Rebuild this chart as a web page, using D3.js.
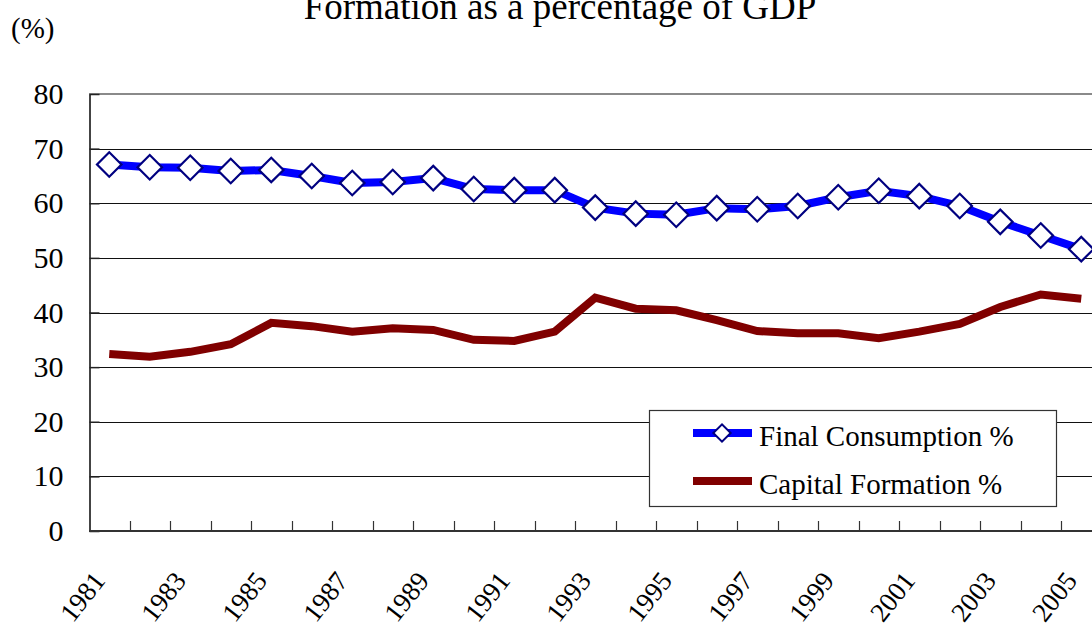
<!DOCTYPE html>
<html>
<head>
<meta charset="utf-8">
<script src="https://cdn.jsdelivr.net/npm/d3@7"></script>
<style>
    body { margin: 0; background: #fff; }
    svg { display: block; }
    text { font-family: "Liberation Serif", "Times New Roman", serif; fill: #000; }
</style>
</head>
<body>
<svg id="chart" width="1092" height="626"></svg>
<script>
// --- data ---
const years = [1981, 1982, 1983, 1984, 1985, 1986, 1987, 1988, 1989, 1990, 1991, 1992, 1993,
               1994, 1995, 1996, 1997, 1998, 1999, 2000, 2001, 2002, 2003, 2004, 2005];
const finalConsumption = [67.1, 66.6, 66.5, 65.9, 66.1, 65.0, 63.7, 63.9, 64.6, 62.6, 62.4, 62.4, 59.2,
                          58.1, 57.9, 59.1, 58.9, 59.5, 61.1, 62.3, 61.3, 59.5, 56.6, 54.1, 51.6];
const capitalFormation = [32.4, 31.9, 32.8, 34.2, 38.1, 37.5, 36.5, 37.1, 36.8, 35.0, 34.8, 36.5, 42.7,
                          40.7, 40.4, 38.6, 36.6, 36.2, 36.2, 35.3, 36.5, 37.9, 41.0, 43.3, 42.5];
const yTicks = [0, 10, 20, 30, 40, 50, 60, 70, 80];
const labelYears = [1981, 1983, 1985, 1987, 1989, 1991, 1993, 1995, 1997, 1999, 2001, 2003, 2005];
const seriesNames = ['Final Consumption %', 'Capital Formation %'];

const svg = d3.select('#chart');
const W = 1092;

// plot area runs a little past the right edge, like the original
const x = d3.scaleBand().domain(years).range([89, 1101.5]).padding(0);
const y = d3.scaleLinear().domain([0, 80]).range([531, 94]);
const cx = d => x(d) + x.bandwidth() / 2;

// title (cut off at the top in the original too) and unit label
svg.append('text')
    .attr('x', 560).attr('y', 19)
    .attr('text-anchor', 'middle')
    .style('font-size', '37px')
    .text('Formation as a percentage of GDP');

svg.append('text')
    .attr('x', 11).attr('y', 38)
    .style('font-size', '29px')
    .text('(%)');

// gridlines
svg.append('g')
    .selectAll('line')
    .data(yTicks.filter(t => t > 0 && t < 80))
    .join('line')
    .attr('x1', 89).attr('x2', W)
    .attr('y1', d => Math.round(y(d)) + 0.5).attr('y2', d => Math.round(y(d)) + 0.5)
    .attr('stroke', '#111').attr('stroke-width', 1.2);

// top border of plot area
svg.append('line')
    .attr('x1', 89).attr('x2', W)
    .attr('y1', y(80)).attr('y2', y(80))
    .attr('stroke', '#8a8a8a').attr('stroke-width', 2);

// y axis
const yAxis = svg.append('g')
    .attr('transform', 'translate(89.5,0)')
    .call(d3.axisLeft(y).tickValues(yTicks).tickSizeInner(-10).tickSizeOuter(0).tickPadding(26));
yAxis.select('.domain').attr('stroke', '#444').attr('stroke-width', 2);
yAxis.selectAll('.tick line').attr('stroke', '#222').attr('stroke-width', 1.5);
yAxis.selectAll('.tick text')
    .style('font-size', '30px')
    .style('font-family', '"Liberation Serif", "Times New Roman", serif')
    .attr('fill', '#000');

// x axis: baseline, ticks between categories, rotated labels
svg.append('line')
    .attr('x1', 89).attr('x2', W)
    .attr('y1', y(0)).attr('y2', y(0))
    .attr('stroke', '#333').attr('stroke-width', 2);

svg.append('g')
    .selectAll('line')
    .data(years.slice(1))
    .join('line')
    .attr('x1', d => Math.round(x(d)) + 0.5).attr('x2', d => Math.round(x(d)) + 0.5)
    .attr('y1', y(0)).attr('y2', y(0) - 10)
    .attr('stroke', '#333').attr('stroke-width', 1.2);

svg.append('g')
    .selectAll('text')
    .data(labelYears)
    .join('text')
    .attr('transform', d => `translate(${cx(d) - 3},${581}) rotate(-52)`)
    .attr('text-anchor', 'end')
    .style('font-size', '27px')
    .text(d => d);

// lines
const line = d3.line().x((d, i) => cx(years[i])).y(d => y(d));

svg.append('path')
    .datum(capitalFormation)
    .attr('fill', 'none')
    .attr('stroke', '#800000')
    .attr('stroke-width', 8)
    .attr('d', line);

svg.append('path')
    .datum(finalConsumption)
    .attr('fill', 'none')
    .attr('stroke', '#0000ff')
    .attr('stroke-width', 8)
    .attr('d', line);

const diamond = d3.symbol(d3.symbolSquare).size(300);

svg.append('g')
    .selectAll('path')
    .data(finalConsumption)
    .join('path')
    .attr('transform', (d, i) => `translate(${cx(years[i])},${y(d)}) rotate(45)`)
    .attr('d', diamond)
    .attr('fill', '#fff')
    .attr('stroke', '#000080')
    .attr('stroke-width', 2.2);

// legend
const legend = svg.append('g');
legend.append('rect')
    .attr('x', 649.5).attr('y', 410.5)
    .attr('width', 407).attr('height', 96)
    .attr('fill', '#fff')
    .attr('stroke', '#333').attr('stroke-width', 1.2);

const rows = [
    { name: seriesNames[0], color: '#0000ff', y: 433, marker: true },
    { name: seriesNames[1], color: '#800000', y: 481, marker: false }
];

rows.forEach(r => {
    legend.append('line')
        .attr('x1', 693).attr('x2', 752)
        .attr('y1', r.y).attr('y2', r.y)
        .attr('stroke', r.color).attr('stroke-width', 8);
    if (r.marker) {
        legend.append('path')
            .attr('transform', `translate(722,${r.y}) rotate(45)`)
            .attr('d', d3.symbol(d3.symbolSquare).size(150)())
            .attr('fill', '#fff')
            .attr('stroke', '#000080')
            .attr('stroke-width', 2);
    }
    legend.append('text')
        .attr('x', 759).attr('y', r.y + 13)
        .style('font-size', '29px')
        .text(r.name);
});
</script>
</body>
</html>
